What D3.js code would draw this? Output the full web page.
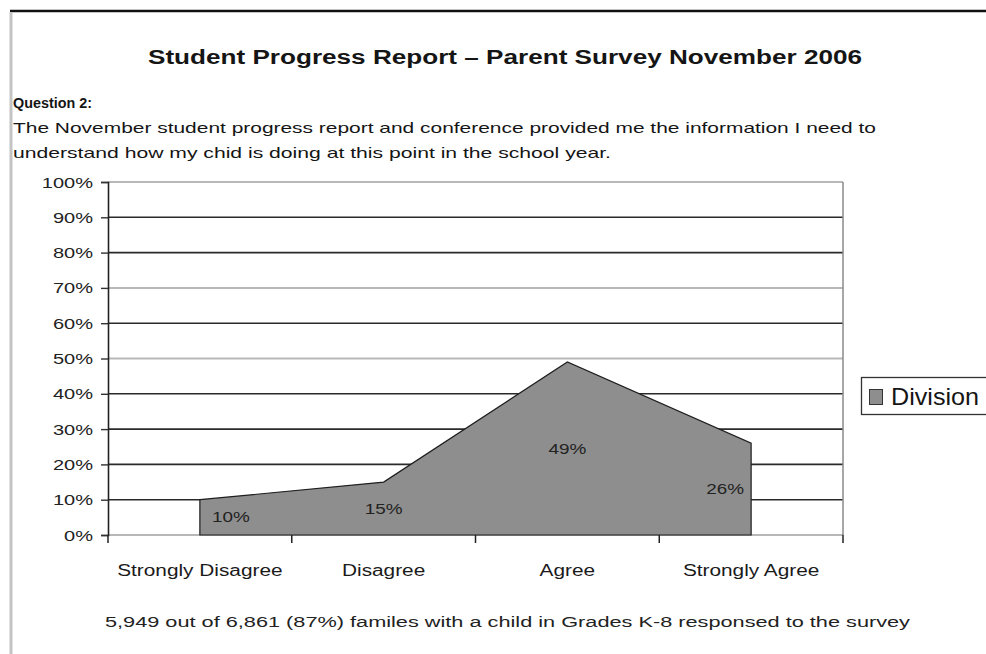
<!DOCTYPE html>
<html>
<head>
<meta charset="utf-8">
<script src="https://cdn.jsdelivr.net/npm/d3@7"></script>
<style>
  html, body { margin: 0; padding: 0; background: #fff; }
  svg { display: block; font-family: "Liberation Sans", Arial, sans-serif; }
</style>
</head>
<body>
<svg id="chart" width="986" height="654"></svg>
<script>
// Survey responses (share of families), one value per answer category
const categories = ["Strongly Disagree", "Disagree", "Agree", "Strongly Agree"];
const values = [10, 15, 49, 26];
const yTicks = [0, 10, 20, 30, 40, 50, 60, 70, 80, 90, 100];
const seriesName = "Division";

const titleText = "Student Progress Report \u2013 Parent Survey November 2006";
const questionLabel = "Question 2:";
const questionLines = [
  "The November student progress report and conference provided me the information I need to",
  "understand how my chid is doing at this point in the school year."
];
const footnote = "5,949 out of 6,861 (87%) familes with a child in Grades K-8 responsed to the survey";

const svg = d3.select("#chart");

// Widen text relative to the font's natural advance
function stretch(sel, k) {
  sel.each(function () {
    const w = this.getComputedTextLength();
    d3.select(this).attr("textLength", w * k).attr("lengthAdjust", "spacingAndGlyphs");
  });
  return sel;
}
// Set text to an exact run width
function fit(sel, w) {
  return sel.attr("textLength", w).attr("lengthAdjust", "spacingAndGlyphs");
}

// Page frame
svg.append("line").attr("x1", 10).attr("x2", 986).attr("y1", 11).attr("y2", 11)
  .attr("stroke", "#111").attr("stroke-width", 2.5);
svg.append("line").attr("x1", 11).attr("x2", 11).attr("y1", 12).attr("y2", 654)
  .attr("stroke", "#c4c4c4").attr("stroke-width", 3);

// Headings
svg.append("text").attr("x", 505).attr("y", 64).attr("text-anchor", "middle")
  .attr("font-size", 19.5).attr("font-weight", "bold").attr("fill", "#151515")
  .text(titleText).call(fit, 714);

svg.append("text").attr("x", 13).attr("y", 108).attr("font-size", 14.5)
  .attr("font-weight", "bold").attr("fill", "#151515")
  .text(questionLabel).call(fit, 79);

const lineWidths = [863, 598];
questionLines.forEach((line, i) => {
  svg.append("text").attr("x", 13).attr("y", 133 + i * 25).attr("font-size", 15)
    .attr("fill", "#151515").text(line).call(fit, lineWidths[i]);
});

// Plot area
const plot = { left: 108, right: 843, top: 182, bottom: 535 };

const x = d3.scaleBand().domain(categories).range([plot.left, plot.right]).padding(0);
const y = d3.scaleLinear().domain([0, 100]).range([plot.bottom, plot.top]);
const cx = d => x(d) + x.bandwidth() / 2;

// Horizontal gridlines
const lightRows = new Set([0, 50, 70, 100]);
svg.append("g").selectAll("line").data(yTicks).join("line")
  .attr("x1", plot.left).attr("x2", plot.right)
  .attr("y1", d => y(d)).attr("y2", d => y(d))
  .attr("stroke", d => lightRows.has(d) ? "#b8b8b8" : "#2a2a2a")
  .attr("stroke-width", d => lightRows.has(d) ? 2 : 1.6);

// Right edge of plot area
svg.append("line").attr("x1", plot.right).attr("x2", plot.right)
  .attr("y1", plot.top).attr("y2", plot.bottom)
  .attr("stroke", "#8a8a8a").attr("stroke-width", 1.5);

// Area series
const points = categories.map((c, i) => ({ c, v: values[i] }));
const area = d3.area().x(d => cx(d.c)).y0(y(0)).y1(d => y(d.v));
svg.append("path").datum(points).attr("d", area)
  .attr("fill", "#8e8e8e").attr("stroke", "#1e1e1e").attr("stroke-width", 1.2)
  .attr("stroke-linejoin", "miter");

// Y axis
const yAxis = d3.axisLeft(y).tickValues(yTicks).tickFormat(d => d + "%").tickSize(7).tickPadding(8);
const gy = svg.append("g").attr("transform", `translate(${plot.left},0)`).call(yAxis);
gy.select(".domain").attr("stroke", "#222").attr("stroke-width", 1.6);
gy.selectAll(".tick line").attr("stroke", "#333").attr("stroke-width", 1.4);
gy.selectAll(".tick text").attr("font-size", 14).attr("fill", "#222")
  .attr("font-family", "Liberation Sans, Arial, sans-serif").attr("dy", "0.36em");
stretch(gy.selectAll(".tick text"), 1.43);

// X axis: tick marks at category boundaries, labels centred in each band
const edges = categories.map(c => x(c)).concat([plot.right]);
svg.append("g").selectAll("line").data(edges).join("line")
  .attr("x1", d => d).attr("x2", d => d)
  .attr("y1", plot.bottom).attr("y2", plot.bottom + 8)
  .attr("stroke", "#222").attr("stroke-width", 1.5);
svg.append("g").selectAll("text").data(categories).join("text")
  .attr("x", d => cx(d)).attr("y", 576).attr("text-anchor", "middle")
  .attr("font-size", 16).attr("fill", "#1a1a1a").text(d => d)
  .call(s => stretch(s, 1.3));

// Data labels, placed halfway up each point and kept inside the filled area
const last = points.length - 1;
svg.append("g").selectAll("text").data(points).join("text")
  .attr("x", (d, i) => i === 0 ? cx(d.c) + 12 : i === last ? cx(d.c) - 7 : cx(d.c))
  .attr("y", d => y(d.v / 2) + 5)
  .attr("text-anchor", (d, i) => i === 0 ? "start" : i === last ? "end" : "middle")
  .attr("font-size", 14).attr("fill", "#222").text(d => d.v + "%")
  .call(s => stretch(s, 1.35));

// Legend
const lg = svg.append("g");
lg.append("rect").attr("x", 861.5).attr("y", 377.5).attr("width", 140).attr("height", 37)
  .attr("fill", "#fff").attr("stroke", "#333").attr("stroke-width", 1.3);
lg.append("rect").attr("x", 869.5).attr("y", 389.5).attr("width", 13).attr("height", 15)
  .attr("fill", "#8e8e8e").attr("stroke", "#333").attr("stroke-width", 1);
lg.append("text").attr("x", 891).attr("y", 405).attr("font-size", 24)
  .attr("fill", "#151515").text(seriesName).call(fit, 88);

// Footnote
svg.append("text").attr("x", 507.5).attr("y", 627).attr("text-anchor", "middle")
  .attr("font-size", 15.5).attr("fill", "#222").text(footnote).call(fit, 805);
</script>
</body>
</html>
